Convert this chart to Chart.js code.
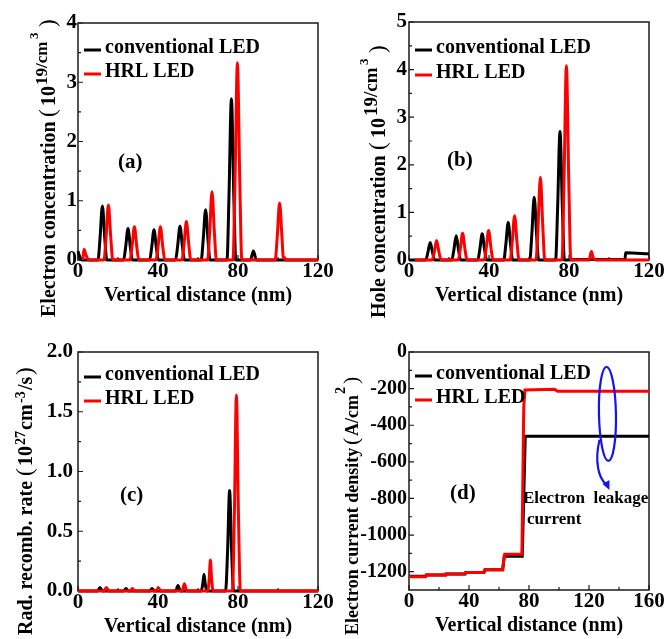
<!DOCTYPE html>
<html>
<head>
<meta charset="utf-8">
<script src="https://cdn.jsdelivr.net/npm/chart.js@4.4.0/dist/chart.umd.min.js"></script>
<style>
  body { margin: 0; background: #fff; }
  #wrap { position: relative; width: 665px; height: 639px; overflow: hidden; }
  canvas { position: absolute; }
</style>
</head>
<body>
<div id="wrap">
  <canvas id="chartA" width="340" height="320" style="left:0;top:0"></canvas>
  <canvas id="chartB" width="335" height="320" style="left:330px;top:0"></canvas>
  <canvas id="chartC" width="340" height="319" style="left:0;top:320px"></canvas>
  <canvas id="chartD" width="335" height="319" style="left:330px;top:320px"></canvas>
</div>
<script>
// ---------- data ----------
const seriesNames = ['conventional LED', 'HRL LED'];

const xTicksShort = [0, 40, 80, 120];
const xTicksLong = [0, 40, 80, 120, 160];
const xMinorShort = [20, 60, 100];
const xMinorLong = [20, 60, 100, 140];

const elecTicks = [0, 1, 2, 3, 4];
const elecMinor = [0.5, 1.5, 2.5, 3.5];
const holeTicks = [0, 1, 2, 3, 4, 5];
const holeMinor = [0.5, 1.5, 2.5, 3.5, 4.5];
const radTicks = [0, 0.5, 1, 1.5, 2];
const radMinor = [0.25, 0.75, 1.25, 1.75];
const currTicks = [0, -200, -400, -600, -800, -1000, -1200];
const currMinor = [-100, -300, -500, -700, -900, -1100];

// (a) electron concentration, 10^19 cm^-3
const elecConv = [[0,0.15],[0.8,0.06],[2,0],
  [10,0],[11,0.36],[12.2,0.91],[13.4,0.36],[14.4,0],
  [22.8,0],[23.8,0.21],[25,0.53],[26.2,0.21],[27.2,0],
  [35.8,0],[36.8,0.2],[38,0.51],[39.2,0.2],[40.2,0],
  [48.8,0],[49.8,0.23],[51,0.57],[52.2,0.23],[53.2,0],
  [61.6,0],[62.6,0.34],[63.8,0.85],[65,0.34],[66,0],
  [74.5,0],[75.5,1.09],[76.7,2.72],[77.9,1.09],[78.9,0],
  [86.2,0],[87.7,0.15],[89.2,0],[120,0]];
const elecHrl = [[2.4,0],[3,0.18],[3.8,0.1],[5.5,0],
  [13,0],[14,0.37],[15.2,0.93],[16.4,0.37],[17.4,0],
  [26,0],[27,0.22],[28.2,0.56],[29.4,0.22],[30.4,0],
  [39,0],[40,0.22],[41.2,0.56],[42.4,0.22],[43.4,0],
  [52,0],[53,0.26],[54.2,0.65],[55.4,0.26],[56.4,0],
  [64.8,0],[65.8,0.46],[67,1.15],[68.2,0.46],[69.2,0],
  [77.5,0],[78.5,1.33],[79.7,3.33],[80.9,1.33],[81.9,0],
  [98.6,0],[99.6,0.38],[100.8,0.96],[102,0.38],[102.7,0.03],[103.3,0.04],[104,0],[120,0]];

// (b) hole concentration, 10^19 cm^-3
const holeConv = [[0,0],
  [8.4,0],[9.4,0.15],[10.6,0.37],[11.8,0.15],[12.8,0],
  [21.4,0],[22.4,0.2],[23.6,0.51],[24.8,0.2],[25.8,0],
  [34.4,0],[35.4,0.22],[36.6,0.55],[37.8,0.22],[38.8,0],
  [47.4,0],[48.4,0.32],[49.6,0.79],[50.8,0.32],[51.8,0],
  [60.4,0],[61.4,0.53],[62.6,1.32],[63.8,0.53],[64.8,0],
  [73.3,0],[74.3,1.08],[75.5,2.7],[76.7,1.08],[77.7,0],
  [85,0.01],[108,0.01],[108.3,0.15],[120,0.13]];
const holeHrl = [[3,0],
  [11.6,0],[12.6,0.16],[13.8,0.41],[15,0.16],[16,0],
  [24.6,0],[25.6,0.22],[26.8,0.56],[28,0.22],[29,0],
  [37.6,0],[38.6,0.25],[39.8,0.62],[41,0.25],[42,0],
  [50.6,0],[51.6,0.37],[52.8,0.93],[54,0.37],[55,0],
  [63.5,0],[64.5,0.7],[65.7,1.74],[66.9,0.7],[67.9,0],
  [76.5,0],[77.5,1.63],[78.7,4.08],[79.9,1.63],[80.9,0],
  [90,0],[91.2,0.18],[92,0.06],[93.5,0],[120,0]];

// (c) radiative recombination rate, 10^27 cm^-3/s
const radConv = [[0,0],[9.8,0],[11,0.03],[12.2,0],[22.8,0],[24,0.02],[25.2,0],[35.8,0],[37,0.02],[38.2,0],
  [48.8,0],[50,0.045],[51.2,0],
  [61.6,0],[62.4,0.06],[63,0.14],[63.6,0.06],[64.4,0],
  [73.8,0],[74.8,0.34],[75.8,0.84],[76.8,0.34],[77.8,0],[120,0]];
const radHrl = [[0,0],[13,0],[14.2,0.03],[15.4,0],[26,0],[27.2,0.02],[28.4,0],[39,0],[40.2,0.025],[41.4,0],
  [52,0],[53.2,0.06],[54.4,0],
  [64.8,0],[65.6,0.1],[66.2,0.26],[66.8,0.1],[67.6,0],
  [77.2,0],[78.2,0.66],[79.2,1.64],[80.2,0.66],[81.2,0],[120,0]];

// (d) electron current density, A/cm^2
const currConv = [[0,-1225],[11,-1225],[11.5,-1218],[24.5,-1218],[25,-1212],[37.5,-1212],[38,-1205],[50,-1205],
  [50.8,-1190],[62.5,-1190],[63.5,-1115],[75.5,-1115],[77.5,-460],[160,-460]];
const currHrl = [[0,-1228],[11,-1228],[11.5,-1218],[24,-1218],[24.5,-1212],[37,-1212],[37.5,-1205],[49.8,-1205],
  [50.5,-1190],[62.3,-1190],[63,-1150],[63.8,-1105],[75.3,-1105],[76.5,-300],[77.3,-208],[97,-204],[99,-215],[160,-215]];

// ---------- styling / layout ----------
const SERIF = '"Liberation Serif", "Times New Roman", serif';
const RED = '#ff0000';

// title parts: [text, fontSize, rise, offsetAlongAxis, weight]
const panelSetup = {
  chartA: {
    area: { left: 78, right: 318, top: 23, bottom: 260 },
    xMax: 120, xTicks: xTicksShort, xMinor: xMinorShort,
    yMin: 0, yMax: 4, yTicks: elecTicks, yMinor: elecMinor, yDigits: 0, yPad: 1, yFont: 21,
    series: [elecConv, elecHrl], smooth: true,
    yTitle: [['Electron concentration', 20, 0, 0], ['(', 23, 0, 200, 400], ['10', 20, 0, 211], ['19/cm', 17, 8, 232],
             ['3', 13, 17, 278], [')', 23, 0, 290, 400]],
    yTitleAt: [55, 317],
    label: '(a)', labelAt: [118, 163], legendY: [53, 77]
  },
  chartB: {
    area: { left: 79, right: 319, top: 22, bottom: 260 },
    xMax: 120, xTicks: xTicksShort, xMinor: xMinorShort,
    yMin: 0, yMax: 5, yTicks: holeTicks, yMinor: holeMinor, yDigits: 0, yPad: 2, yFont: 21,
    series: [holeConv, holeHrl], smooth: true,
    yTitle: [['Hole concentration', 20, 0, 0], ['(', 23, 0, 168, 400], ['10', 20, 0, 180], ['19/cm', 19, 8, 202],
             ['3', 13, 17, 253], [')', 23, 0, 265, 400]],
    yTitleAt: [55, 318],
    label: '(b)', labelAt: [117, 161], legendY: [53, 78]
  },
  chartC: {
    area: { left: 78, right: 318, top: 32, bottom: 271 },
    xMax: 120, xTicks: xTicksShort, xMinor: xMinorShort,
    yMin: 0, yMax: 2, yTicks: radTicks, yMinor: radMinor, yDigits: 1, yPad: 5, yFont: 21,
    series: [radConv, radHrl], smooth: true,
    yTitle: [['Rad. recomb. rate', 20, 0, 0], ['(', 23, 0, 159, 400], ['10', 20, 0, 169], ['27', 14, 7, 190],
             ['cm', 20, 0, 205], ['-3', 14, 7, 232], ['/s', 20, 0, 245], [')', 23, 0, 260, 400]],
    yTitleAt: [32, 315],
    label: '(c)', labelAt: [120, 176], legendY: [60, 84]
  },
  chartD: {
    area: { left: 79, right: 319, top: 32, bottom: 270 },
    xMax: 160, xTicks: xTicksLong, xMinor: xMinorLong,
    yMin: -1300, yMax: 0, yTicks: currTicks, yMinor: currMinor, yDigits: 0, yPad: 2, yFont: 20,
    series: [currConv, currHrl], smooth: false,
    yTitle: [['Electron current density', 18, 0, 0], ['(', 22, 0, 190, 400], ['A/cm', 18, 0, 199],
             ['2', 14, 13, 241], [')', 22, 0, 251, 400]],
    yTitleAt: [28, 315],
    label: '(d)', labelAt: [120, 174], legendY: [59, 83],
    leakage: true
  }
};

function drawRich(ctx, parts) {
  parts.forEach(([text, size, rise, offset, weight]) => {
    ctx.font = (weight || 'bold') + ' ' + size + 'px ' + SERIF;
    ctx.fillText(text, offset, -rise);
  });
}

// Frame, inward ticks, legend, titles and the leakage annotation
const panelDeco = {
  id: 'panelDeco',
  beforeDatasetsDraw(chart) {
    const cfg = panelSetup[chart.canvas.id];
    const ctx = chart.ctx, a = chart.chartArea;
    const xs = chart.scales.x, ys = chart.scales.y;
    ctx.save();
    ctx.strokeStyle = '#1a1a1a';
    ctx.lineWidth = 1.5;
    ctx.strokeRect(a.left, a.top, a.right - a.left, a.bottom - a.top);
    ctx.lineWidth = 1.2;
    ctx.beginPath();
    const tickX = (v, len) => { const px = xs.getPixelForValue(v); ctx.moveTo(px, a.bottom); ctx.lineTo(px, a.bottom - len); };
    const tickY = (v, len) => { const py = ys.getPixelForValue(v); ctx.moveTo(a.left, py); ctx.lineTo(a.left + len, py); };
    cfg.xTicks.forEach(v => tickX(v, 5));
    cfg.xMinor.forEach(v => tickX(v, 3));
    cfg.yTicks.forEach(v => tickY(v, 5));
    cfg.yMinor.forEach(v => tickY(v, 3));
    ctx.stroke();
    ctx.restore();
  },
  afterDatasetsDraw(chart) {
    const cfg = panelSetup[chart.canvas.id];
    const ctx = chart.ctx, a = chart.chartArea;
    ctx.save();
    ctx.fillStyle = '#000';

    // legend (short line + bold label)
    [['#000', seriesNames[0]], [RED, seriesNames[1]]].forEach(([col, name], i) => {
      const by = cfg.legendY[i];
      ctx.strokeStyle = col;
      ctx.lineWidth = 3;
      ctx.beginPath();
      ctx.moveTo(a.left + 6, by - 3);
      ctx.lineTo(a.left + 23, by - 3);
      ctx.stroke();
      ctx.font = 'bold 20px ' + SERIF;
      ctx.textAlign = 'left';
      ctx.textBaseline = 'alphabetic';
      ctx.fillText(name, a.left + 27, by);
    });

    // panel label
    ctx.font = 'bold 21px ' + SERIF;
    ctx.textBaseline = 'middle';
    ctx.fillText(cfg.label, cfg.labelAt[0], cfg.labelAt[1]);

    // x axis title
    ctx.textAlign = 'center';
    ctx.textBaseline = 'alphabetic';
    ctx.font = 'bold 20px ' + SERIF;
    ctx.fillText('Vertical distance (nm)', (a.left + a.right) / 2, a.bottom + 41);

    // y axis title, rotated
    ctx.save();
    ctx.translate(cfg.yTitleAt[0], cfg.yTitleAt[1]);
    ctx.rotate(-Math.PI / 2);
    ctx.textAlign = 'left';
    drawRich(ctx, cfg.yTitle);
    ctx.restore();

    if (cfg.leakage) {
      const xs = chart.scales.x, ys = chart.scales.y;
      const cx = xs.getPixelForValue(132.3), cy = ys.getPixelForValue(-338);
      ctx.strokeStyle = '#1414f0';
      ctx.fillStyle = '#1414f0';
      ctx.lineWidth = 2.2;
      ctx.beginPath();
      ctx.ellipse(cx, cy, 8.5, 47, -0.02, 0, Math.PI * 2);
      ctx.stroke();
      ctx.beginPath();
      ctx.moveTo(cx - 8, cy + 26);
      ctx.bezierCurveTo(cx - 13, cy + 48, cx - 9, cy + 64, cx - 1, cy + 71);
      ctx.stroke();
      ctx.beginPath();
      ctx.moveTo(cx + 2, cy + 76);
      ctx.lineTo(cx - 5, cy + 70);
      ctx.lineTo(cx + 2, cy + 66);
      ctx.closePath();
      ctx.fill();

      ctx.fillStyle = '#000';
      ctx.font = 'bold 17px ' + SERIF;
      ctx.textAlign = 'left';
      ctx.fillText('Electron  leakage', 193, 183);
      ctx.fillText('current', 197, 204);
    }
    ctx.restore();
  }
};
Chart.register(panelDeco);

function makePanel(id) {
  const cfg = panelSetup[id];
  const canvas = document.getElementById(id);
  const W = canvas.width, H = canvas.height;
  const xFont = { family: SERIF, size: 21, weight: 'bold' };
  const yFont = { family: SERIF, size: cfg.yFont, weight: 'bold' };
  const colors = ['#000', RED];

  // red drawn on top: dataset 0 is painted last
  const datasets = [1, 0].map(k => ({
    label: seriesNames[k],
    data: cfg.series[k].map(([x, y]) => ({ x, y })),
    borderColor: colors[k],
    borderWidth: 3,
    pointRadius: 0,
    fill: false,
    cubicInterpolationMode: cfg.smooth ? 'monotone' : 'default',
    tension: 0,
    clip: 4
  }));

  return new Chart(canvas, {
    type: 'line',
    data: { datasets },
    options: {
      responsive: false,
      animation: false,
      events: [],
      layout: { padding: { left: 0, top: cfg.area.top, right: W - cfg.area.right, bottom: 0 } },
      plugins: { legend: { display: false }, tooltip: { enabled: false } },
      scales: {
        x: {
          type: 'linear', min: 0, max: cfg.xMax,
          grid: { display: false, drawTicks: false },
          border: { display: false },
          afterBuildTicks: s => { s.ticks = cfg.xTicks.map(v => ({ value: v })); },
          afterFit: s => { s.height = H - cfg.area.bottom; s.paddingLeft = 0; s.paddingRight = 0; },
          ticks: { font: xFont, color: '#000', padding: -1, maxRotation: 0, autoSkip: false,
                   callback: v => String(v) }
        },
        y: {
          type: 'linear', min: cfg.yMin, max: cfg.yMax,
          grid: { display: false, drawTicks: false },
          border: { display: false },
          afterBuildTicks: s => { s.ticks = cfg.yTicks.map(v => ({ value: v })); },
          afterFit: s => { s.width = cfg.area.left; s.paddingTop = 0; s.paddingBottom = 0; },
          ticks: { font: yFont, color: '#000', padding: cfg.yPad, autoSkip: false,
                   callback: v => v.toFixed(cfg.yDigits) }
        }
      }
    }
  });
}

['chartA', 'chartB', 'chartC', 'chartD'].forEach(makePanel);
</script>
</body>
</html>
